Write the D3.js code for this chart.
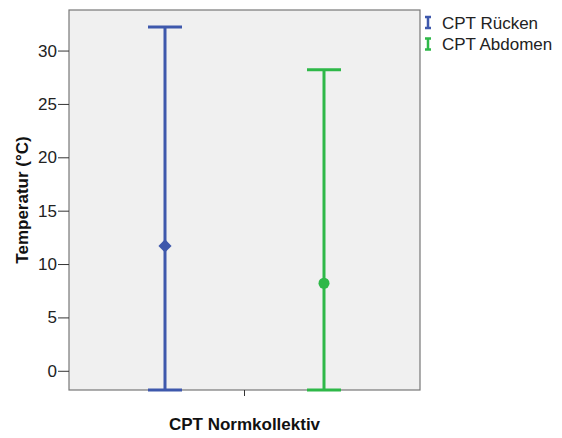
<!DOCTYPE html>
<html>
<head>
<meta charset="utf-8">
<script src="https://cdn.jsdelivr.net/npm/d3@7"></script>
<style>
  body { margin: 0; background: #fff; }
  text { font-family: "Liberation Sans", Arial, sans-serif; }
</style>
</head>
<body>
<svg id="chart" width="562" height="438"></svg>
<script>
var series = ['CPT Rücken', 'CPT Abdomen'];
var means = [11.7, 8.2];
var lower = [-1.8, -1.8];
var upper = [32.2, 28.2];
var yTicks = [0, 5, 10, 15, 20, 25, 30];
var colors = ['#3e58ac', '#2eb848'];

var svg = d3.select('#chart');
var mLeft = 69, mRight = 420, mTop = 10, mBottom = 390;

var y = d3.scaleLinear().domain([-1.8, 33.8]).range([mBottom, mTop]);
var x = d3.scalePoint().domain(series).range([165, 324]);

svg.append('rect')
    .attr('x', mLeft).attr('y', mTop)
    .attr('width', mRight - mLeft).attr('height', mBottom - mTop)
    .attr('fill', '#f0f0f0')
    .attr('stroke', '#777').attr('stroke-width', 1.2);

var yAxis = svg.append('g')
    .attr('transform', `translate(${mLeft},0)`)
    .call(d3.axisLeft(y).tickValues(yTicks).tickSize(11).tickPadding(1));
yAxis.select('.domain').remove();
yAxis.selectAll('line').attr('stroke', '#333');
yAxis.selectAll('text').style('font-size', '17px').attr('fill', '#222')
    .style('font-family', '"Liberation Sans", Arial, sans-serif');

// center tick on x axis
svg.append('line')
    .attr('x1', (mLeft + mRight) / 2).attr('x2', (mLeft + mRight) / 2)
    .attr('y1', mBottom).attr('y2', mBottom + 6)
    .attr('stroke', '#333');

var g = svg.append('g').selectAll('g')
    .data(series)
    .join('g');

g.append('line')
    .attr('x1', d => x(d)).attr('x2', d => x(d))
    .attr('y1', (d, i) => y(upper[i])).attr('y2', (d, i) => y(lower[i]))
    .attr('stroke', (d, i) => colors[i]).attr('stroke-width', 3);

g.append('line')
    .attr('x1', d => x(d) - 17).attr('x2', d => x(d) + 17)
    .attr('y1', (d, i) => y(upper[i])).attr('y2', (d, i) => y(upper[i]))
    .attr('stroke', (d, i) => colors[i]).attr('stroke-width', 3);

g.append('line')
    .attr('x1', d => x(d) - 17).attr('x2', d => x(d) + 17)
    .attr('y1', (d, i) => y(lower[i])).attr('y2', (d, i) => y(lower[i]))
    .attr('stroke', (d, i) => colors[i]).attr('stroke-width', 3);

g.append('path')
    .attr('transform', (d, i) => `translate(${x(d)},${y(means[i])})`)
    .attr('d', (d, i) => d3.symbol().type(i === 0 ? d3.symbolDiamond2 : d3.symbolCircle).size(i === 0 ? 110 : 95)())
    .attr('fill', (d, i) => colors[i]);

svg.append('text')
    .attr('x', (mLeft + mRight) / 2).attr('y', 430)
    .attr('text-anchor', 'middle')
    .style('font-size', '17px').style('font-weight', 'bold').attr('fill', '#111')
    .text('CPT Normkollektiv');

svg.append('text')
    .attr('transform', `translate(28,200) rotate(-90)`)
    .attr('text-anchor', 'middle')
    .style('font-size', '17px').style('font-weight', 'bold').attr('fill', '#111')
    .text('Temperatur (°C)');

var legend = svg.append('g').selectAll('g')
    .data(series)
    .join('g')
    .attr('transform', (d, i) => `translate(428,${22.5 + i * 21.5})`);

legend.append('path')
    .attr('d', 'M-3,-5.5H3M0,-5.5V5.5M-3,5.5H3')
    .attr('stroke', (d, i) => colors[i]).attr('stroke-width', 2.5).attr('fill', 'none');

legend.append('text')
    .attr('x', 14).attr('y', 6)
    .style('font-size', '17px').attr('fill', '#222')
    .text(d => d);
</script>
</body>
</html>
